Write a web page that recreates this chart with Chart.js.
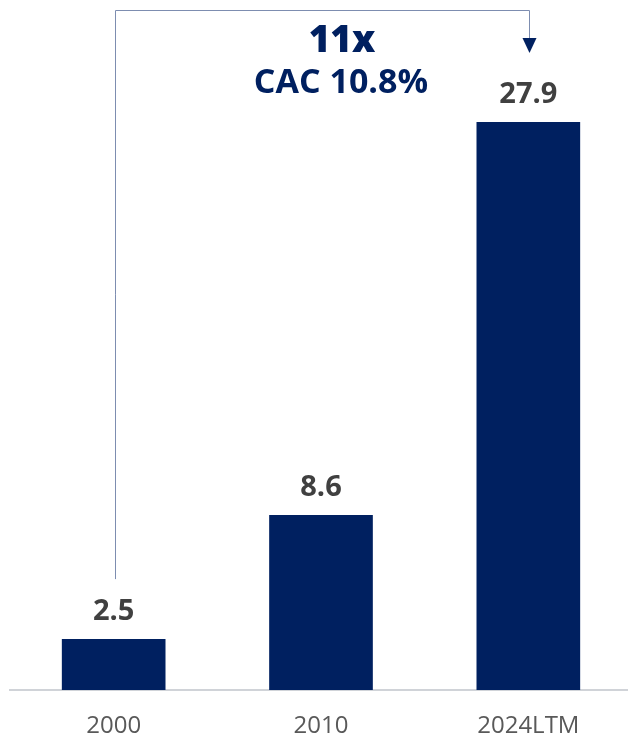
<!DOCTYPE html>
<html><head><meta charset="utf-8">
<script src="https://cdn.jsdelivr.net/npm/chart.js@4.4.1/dist/chart.umd.min.js"></script>
<style>html,body{margin:0;padding:0;background:#fff;overflow:hidden}#wrap{width:628px;height:737px;position:relative;overflow:hidden}canvas{display:block}</style>
</head><body><div id="wrap"><canvas id="c" width="632" height="737"></canvas></div>
<script>
const categories = ["2000", "2010", "2024LTM"];
const values = [2.5, 8.6, 27.9];
const valueLabels = ["2.5", "8.6", "27.9"];
const headline = ["11x", "CAC 10.8%"];

const NAVY = "#002060";
const FONT = "'Open Sans'";

const labelsPlugin = {
  id: "valueLabels",
  afterDatasetsDraw(chart) {
    const ctx = chart.ctx;
    const meta = chart.getDatasetMeta(0);
    ctx.save();
    ctx.fillStyle = "#404040";
    ctx.font = "bold 29px " + FONT;
    ctx.textAlign = "center";
    ctx.textBaseline = "alphabetic";
    meta.data.forEach((bar, i) => {
      ctx.fillText(valueLabels[i], bar.x, bar.y - 19);
    });
    ctx.restore();
  }
};

const annotPlugin = {
  id: "annot",
  afterDraw(chart) {
    const ctx = chart.ctx;
    const meta = chart.getDatasetMeta(0);
    const b0 = meta.data[0], b2 = meta.data[2];
    const x0 = Math.round(b0.x) + 1.5, x2 = Math.round(b2.x) + 1.5;
    const yStart = b0.y - 60, yTop = 10.5, tipY = 53;
    ctx.save();
    ctx.strokeStyle = "#7d8db0";
    ctx.lineWidth = 1;
    ctx.beginPath();
    ctx.moveTo(x0, yStart);
    ctx.lineTo(x0, yTop);
    ctx.lineTo(x2, yTop);
    ctx.lineTo(x2, tipY - 14);
    ctx.stroke();
    ctx.fillStyle = NAVY;
    ctx.beginPath();
    ctx.moveTo(x2 - 7, tipY - 15);
    ctx.lineTo(x2 + 7, tipY - 15);
    ctx.lineTo(x2, tipY);
    ctx.closePath();
    ctx.fill();
    ctx.textAlign = "center";
    ctx.textBaseline = "alphabetic";
    ctx.font = "800 37px " + FONT;
    ctx.fillText(headline[0], 342, 52);
    ctx.font = "bold 34px " + FONT;
    ctx.fillText(headline[1], 341, 93);
    ctx.restore();
  }
};

new Chart(document.getElementById("c"), {
  type: "bar",
  data: {
    labels: categories,
    datasets: [{
      data: values,
      backgroundColor: NAVY,
      borderWidth: 0,
      barPercentage: 0.5,
      categoryPercentage: 1.0
    }]
  },
  options: {
    responsive: false,
    animation: false,
    devicePixelRatio: 1,
    layout: { padding: { left: 10, right: 0, top: 0, bottom: 0 } },
    plugins: { legend: { display: false }, tooltip: { enabled: false } },
    scales: {
      x: {
        grid: { display: false, drawTicks: false },
        border: { display: true, color: "#d0d3d8", width: 2 },
        ticks: { color: "#595959", font: { family: "Open Sans", size: 24 }, padding: 22, maxRotation: 0 },
        afterFit(axis) { axis.height = 47; }
      },
      y: {
        display: false,
        min: 0,
        max: 33.9
      }
    }
  },
  plugins: [labelsPlugin, annotPlugin]
});
</script></body></html>
